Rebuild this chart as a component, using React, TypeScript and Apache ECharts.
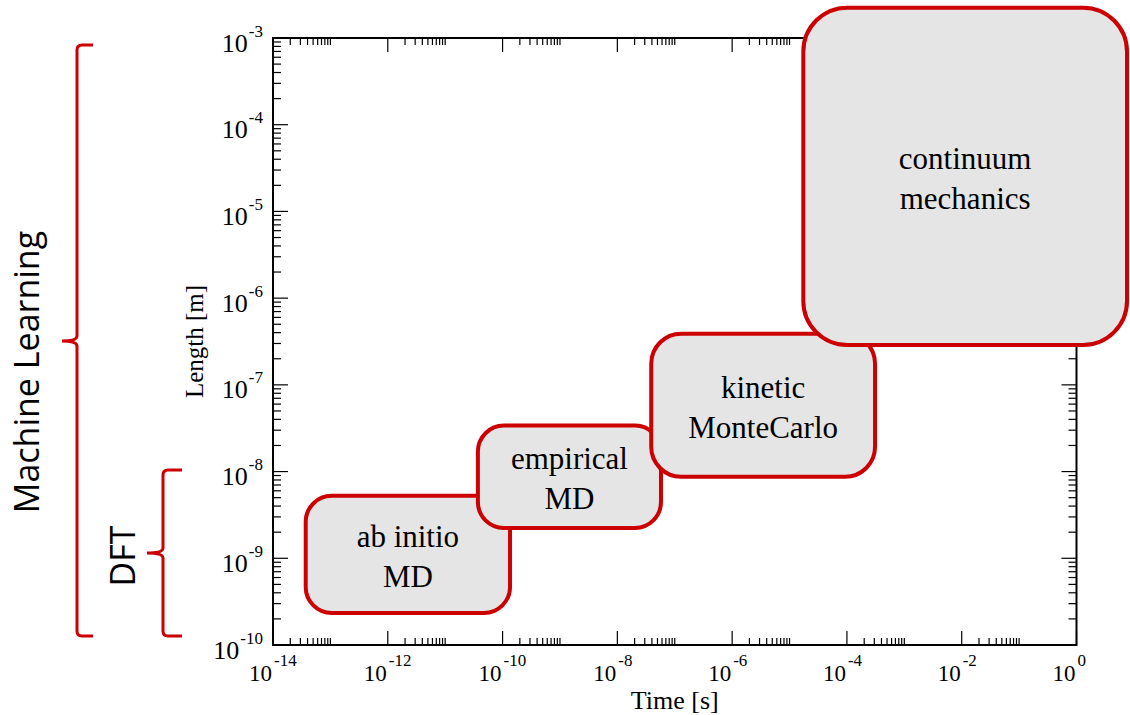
import { useEffect, useRef } from "react";
import * as echarts from "echarts";

// Simulation regimes: each spans a range of time scales (s) and length scales (m),
// given here as powers of ten.
const regimeLabels = ["ab initio\nMD", "empirical\nMD", "kinetic\nMonteCarlo", "continuum\nmechanics"];
const timeFromExp = [-13.43, -10.43, -7.41, -4.76];
const timeToExp = [-9.87, -7.24, -3.51, 0.88];
const lengthFromExp = [-9.63, -8.65, -8.06, -6.54];
const lengthToExp = [-8.28, -7.47, -6.41, -2.65];

// Labelled decades on each axis
const timeLabelExp = [-14, -12, -10, -8, -6, -4, -2, 0];
const lengthLabelExp = [-10, -9, -8, -7, -6, -5, -4, -3];

const TIME_MIN = 1e-14;
const TIME_MAX = 1;
const LENGTH_MIN = 1e-10;
const LENGTH_MAX = 1e-3;

const RED = "#cc0000";
const BOX_FILL = "#e5e5e5";
const boxRadius = [26, 26, 30, 44];

const SERIF = '"Liberation Serif", "Times New Roman", serif';
const SANS = '"Open Sans", "Noto Sans", sans-serif';

// Minor ticks at 2..10 x each labelled time decade, 2..9 x each length decade
const timeMinor: number[] = [];
timeLabelExp.slice(0, -1).forEach((e) => {
  for (let m = 2; m <= 10; m++) timeMinor.push(m * Math.pow(10, e));
});
const lengthMinor: number[] = [];
lengthLabelExp.slice(0, -1).forEach((e) => {
  for (let m = 2; m <= 9; m++) lengthMinor.push(m * Math.pow(10, e));
});

echarts.graphic.registerShape(
  "mlBrace",
  echarts.graphic.extendPath(
    "M93,45 L82,45 Q77,45 77,50 L77,336 Q77,341 62,341 Q77,341 77,346 L77,631 Q77,636 82,636 L93,636",
    {}
  )
);
echarts.graphic.registerShape(
  "dftBrace",
  echarts.graphic.extendPath(
    "M182,470 L168,470 Q163,470 163,475 L163,548 Q163,553 147,553 Q163,553 163,558 L163,631 Q163,636 168,636 L182,636",
    {}
  )
);

const X_BASE_FONT = `23px ${SERIF}`;
const X_EXP_FONT = `17px ${SERIF}`;
const Y_BASE_FONT = `26px ${SERIF}`;
const Y_EXP_FONT = `17px ${SERIF}`;

let measureCtx: CanvasRenderingContext2D | null = null;
function textWidth(text: string, font: string): number {
  if (!measureCtx) measureCtx = document.createElement("canvas").getContext("2d");
  if (!measureCtx) return text.length * 8;
  measureCtx.font = font;
  return measureCtx.measureText(text).width;
}

function tickSeries(values: number[], horizontal: boolean, len: number): any {
  return {
    type: "custom",
    coordinateSystem: "cartesian2d",
    silent: true,
    z: 3,
    data: values.map((v) => (horizontal ? [v, LENGTH_MIN] : [TIME_MIN, v])),
    encode: { x: 0, y: 1 },
    renderItem: (params: any, api: any) => {
      const cs = params.coordSys;
      const p = api.coord([api.value(0), api.value(1)]);
      const style = { stroke: "#000", lineWidth: 1.2 };
      if (horizontal) {
        const x = p[0];
        return {
          type: "group",
          children: [
            { type: "line", shape: { x1: x, y1: cs.y + cs.height, x2: x, y2: cs.y + cs.height - len }, style },
            { type: "line", shape: { x1: x, y1: cs.y, x2: x, y2: cs.y + len }, style },
          ],
        };
      }
      const y = p[1];
      return {
        type: "group",
        children: [
          { type: "line", shape: { x1: cs.x, y1: y, x2: cs.x + len, y2: y }, style },
          { type: "line", shape: { x1: cs.x + cs.width, y1: y, x2: cs.x + cs.width - len, y2: y }, style },
        ],
      };
    },
  };
}

// Power-of-ten tick labels: "10" with a raised exponent
function timeLabelSeries(): any {
  return {
    type: "custom",
    coordinateSystem: "cartesian2d",
    silent: true,
    z: 4,
    data: timeLabelExp.map((e) => [Math.pow(10, e), LENGTH_MIN]),
    encode: { x: 0, y: 1 },
    renderItem: (params: any, api: any) => {
      const cs = params.coordSys;
      const x = api.coord([api.value(0), api.value(1)])[0];
      const bottom = cs.y + cs.height;
      return {
        type: "group",
        children: [
          {
            type: "text",
            style: { text: "10", x: x - 1, y: bottom + 28, align: "right", verticalAlign: "middle", font: X_BASE_FONT, fill: "#000" },
          },
          {
            type: "text",
            style: {
              text: String(timeLabelExp[params.dataIndex]),
              x: x + 1,
              y: bottom + 15,
              align: "left",
              verticalAlign: "middle",
              font: X_EXP_FONT,
              fill: "#000",
            },
          },
        ],
      };
    },
  };
}

function lengthLabelSeries(): any {
  return {
    type: "custom",
    coordinateSystem: "cartesian2d",
    silent: true,
    z: 4,
    data: lengthLabelExp.map((e) => [TIME_MIN, Math.pow(10, e)]),
    encode: { x: 0, y: 1 },
    renderItem: (params: any, api: any) => {
      const cs = params.coordSys;
      const y = api.coord([api.value(0), api.value(1)])[1];
      const expText = String(lengthLabelExp[params.dataIndex]);
      const right = cs.x - 10;
      const expW = textWidth(expText, Y_EXP_FONT);
      return {
        type: "group",
        children: [
          {
            type: "text",
            style: { text: "10", x: right - expW - 1, y: y + 5, align: "right", verticalAlign: "middle", font: Y_BASE_FONT, fill: "#000" },
          },
          {
            type: "text",
            style: { text: expText, x: right, y: y - 7, align: "right", verticalAlign: "middle", font: Y_EXP_FONT, fill: "#000" },
          },
        ],
      };
    },
  };
}

export default function App() {
  const ref = useRef<HTMLDivElement>(null);

  useEffect(() => {
    if (!ref.current) return;
    const chart = echarts.init(ref.current, null, { renderer: "svg" });

    const option: any = {
      animation: false,
      backgroundColor: "#fff",
      grid: {
        left: 273,
        right: 53.5,
        top: 38,
        bottom: 70,
        show: true,
        borderColor: "#000",
        borderWidth: 2,
        outerBoundsMode: "none",
      },
      xAxis: {
        type: "log",
        min: TIME_MIN,
        max: TIME_MAX,
        name: "Time [s]",
        nameLocation: "middle",
        nameGap: 42,
        nameTextStyle: { fontFamily: SERIF, fontSize: 26, color: "#000" },
        axisLine: { show: false },
        axisTick: { show: false },
        splitLine: { show: false },
        axisLabel: { show: false },
      },
      yAxis: {
        type: "log",
        min: LENGTH_MIN,
        max: LENGTH_MAX,
        name: "Length [m]",
        nameLocation: "middle",
        nameRotate: 90,
        nameGap: 66,
        nameTextStyle: { fontFamily: SERIF, fontSize: 25, color: "#000" },
        axisLine: { show: false },
        axisTick: { show: false },
        splitLine: { show: false },
        axisLabel: { show: false },
      },
      graphic: [
        { type: "mlBrace", x: 0, y: 0, z: 10, style: { fill: "none", stroke: RED, lineWidth: 3 } },
        { type: "dftBrace", x: 0, y: 0, z: 10, style: { fill: "none", stroke: RED, lineWidth: 3 } },
        {
          type: "text",
          x: 26,
          y: 372,
          rotation: Math.PI / 2,
          z: 10,
          style: { text: "Machine Learning", font: `34px ${SANS}`, fill: "#000", align: "center", verticalAlign: "middle" },
        },
        {
          type: "text",
          x: 122,
          y: 556,
          rotation: Math.PI / 2,
          z: 10,
          style: { text: "DFT", font: `34px ${SANS}`, fill: "#000", align: "center", verticalAlign: "middle" },
        },
      ],
      series: [
        tickSeries(timeLabelExp.map((e) => Math.pow(10, e)), true, 14),
        tickSeries(timeMinor, true, 7),
        tickSeries(lengthLabelExp.map((e) => Math.pow(10, e)), false, 15),
        tickSeries(lengthMinor, false, 8),
        timeLabelSeries(),
        lengthLabelSeries(),
        {
          type: "custom",
          coordinateSystem: "cartesian2d",
          z: 5,
          clip: false,
          data: regimeLabels.map((name, i) => ({
            name,
            value: [
              Math.pow(10, timeFromExp[i]),
              Math.pow(10, timeToExp[i]),
              Math.pow(10, lengthFromExp[i]),
              Math.pow(10, lengthToExp[i]),
            ],
          })),
          encode: { x: [0, 1], y: [2, 3] },
          renderItem: (params: any, api: any) => {
            const i = params.dataIndex;
            const p0 = api.coord([api.value(0), api.value(3)]);
            const p1 = api.coord([api.value(1), api.value(2)]);
            return {
              type: "group",
              children: [
                {
                  type: "rect",
                  shape: { x: p0[0], y: p0[1], width: p1[0] - p0[0], height: p1[1] - p0[1], r: boxRadius[i] },
                  style: { fill: BOX_FILL, stroke: RED, lineWidth: 4 },
                },
                {
                  type: "text",
                  style: {
                    text: regimeLabels[i],
                    x: (p0[0] + p1[0]) / 2,
                    y: (p0[1] + p1[1]) / 2 + 2,
                    align: "center",
                    verticalAlign: "middle",
                    font: `31px ${SERIF}`,
                    lineHeight: 40,
                    fill: "#000",
                  },
                },
              ],
            };
          },
        },
      ],
    };

    chart.setOption(option);
    return () => chart.dispose();
  }, []);

  return (
    <div
      ref={ref}
      style={{ position: "fixed", left: 0, top: 0, width: 1130, height: 715 }}
    />
  );
}
